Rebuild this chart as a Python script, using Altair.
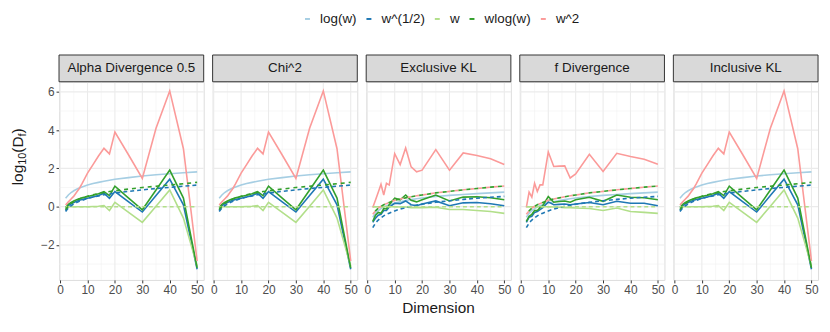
import altair as alt
import pandas as pd

FONT = "Liberation Sans"

panels = ["Alpha Divergence 0.5", "Chi^2", "Exclusive KL", "f Divergence", "Inclusive KL"]
series = ["log(w)", "w^(1/2)", "w", "wlog(w)", "w^2"]
colors = ["#A6CEE3", "#1F78B4", "#B2DF8A", "#33A02C", "#FB9A99"]

dims = [2, 3, 4, 5, 6, 7, 8, 10, 12, 14, 16, 18, 20, 25, 30, 35, 40, 45, 50]

# panels Alpha Divergence 0.5 / Chi^2 / Inclusive KL
a_logw = [0.44, 0.61, 0.74, 0.83, 0.91, 0.98, 1.03, 1.13, 1.21, 1.27, 1.33, 1.38, 1.43, 1.52, 1.60, 1.67, 1.72, 1.77, 1.82]
a_sqrt = [-0.2, 0.05, 0.15, 0.22, 0.28, 0.33, 0.37, 0.44, 0.5, 0.58, 0.7, 0.44, 0.79, 0.25, -0.28, 0.58, 1.44, 0.1, -3.27]
a_w = [0.0, 0.0, 0.0, 0.0, 0.0, 0.0, 0.0, 0.0, 0.01, 0.02, 0.06, -0.2, 0.23, -0.3, -0.82, 0.02, 0.87, -0.6, -3.1]
a_wlogw = [-0.05, 0.12, 0.22, 0.3, 0.36, 0.41, 0.46, 0.53, 0.6, 0.68, 0.79, 0.58, 1.07, 0.45, -0.16, 0.87, 1.91, 0.45, -3.2]
a_w2 = [0.09, 0.25, 0.4, 0.55, 0.75, 0.95, 1.2, 1.75, 2.2, 2.65, 3.05, 2.76, 3.9, 2.7, 1.48, 4.1, 6.05, 3.03, -2.84]
a_d_sqrt = [-0.25, -0.07, 0.05, 0.14, 0.21, 0.28, 0.33, 0.43, 0.5, 0.56, 0.62, 0.66, 0.71, 0.8, 0.88, 0.95, 1.01, 1.07, 1.13]
a_d_w = [0.0] * 19
a_d_wlogw = [-0.15, 0.03, 0.16, 0.26, 0.33, 0.4, 0.46, 0.55, 0.62, 0.69, 0.74, 0.79, 0.83, 0.92, 1.0, 1.07, 1.13, 1.2, 1.27]

# panel Exclusive KL
e_logw = [-0.55, -0.35, -0.2, -0.1, -0.02, 0.05, 0.1, 0.19, 0.26, 0.32, 0.37, 0.41, 0.45, 0.53, 0.59, 0.64, 0.68, 0.72, 0.76]
e_sqrt = [-0.82, -0.6, -0.45, -0.4, -0.2, -0.2, -0.02, 0.18, 0.16, 0.3, 0.1, 0.05, 0.14, 0.3, 0.05, 0.2, 0.22, 0.15, 0.05]
e_w = [0.0, 0.0, 0.0, 0.0, 0.0, 0.0, 0.0, 0.0, -0.02, -0.02, -0.05, -0.05, -0.05, -0.03, -0.15, -0.15, -0.2, -0.25, -0.35]
e_wlogw = [-0.77, -0.45, -0.3, -0.35, -0.1, -0.12, 0.1, 0.44, 0.36, 0.61, 0.33, 0.25, 0.36, 0.61, 0.3, 0.5, 0.52, 0.47, 0.36]
e_w2 = [-0.04, 0.35, 0.75, 1.17, 0.61, 1.22, 1.13, 2.77, 2.2, 3.07, 2.08, 1.82, 1.91, 2.98, 1.91, 2.81, 2.68, 2.51, 2.2]

# panel f Divergence
f_logw = [-0.55, -0.35, -0.2, -0.1, -0.02, 0.05, 0.1, 0.19, 0.26, 0.32, 0.37, 0.41, 0.45, 0.53, 0.59, 0.64, 0.68, 0.72, 0.76]
f_sqrt = [-0.82, -0.55, -0.5, -0.3, -0.25, -0.15, -0.05, 0.25, 0.1, 0.12, 0.14, 0.1, 0.14, 0.22, 0.1, 0.28, 0.18, 0.18, 0.05]
f_w = [0.0, 0.0, 0.0, 0.0, 0.0, 0.0, 0.0, 0.0, -0.02, -0.03, -0.05, -0.05, -0.07, -0.1, -0.2, -0.07, -0.25, -0.3, -0.35]
f_wlogw = [-0.77, -0.5, -0.4, -0.2, -0.2, -0.05, 0.05, 0.53, 0.23, 0.27, 0.3, 0.23, 0.36, 0.49, 0.28, 0.61, 0.49, 0.47, 0.36]
f_w2 = [-0.04, 0.76, 0.5, 1.22, 0.79, 1.14, 1.14, 2.86, 2.1, 2.12, 2.13, 1.5, 1.71, 2.74, 1.84, 2.79, 2.62, 2.48, 2.22]

# dashed curves for Exclusive KL / f Divergence
ef_d_sqrt = [-1.1, -0.85, -0.7, -0.58, -0.48, -0.4, -0.34, -0.22, -0.12, -0.05, 0.02, 0.08, 0.13, 0.23, 0.31, 0.38, 0.44, 0.49, 0.54]
ef_d_w = [0.0] * 19
ef_d_wlogw = [-0.4, -0.22, -0.08, 0.02, 0.1, 0.16, 0.22, 0.33, 0.4, 0.46, 0.52, 0.57, 0.61, 0.72, 0.8, 0.88, 0.95, 1.02, 1.08]
ef_d_w2 = [-0.4, -0.22, -0.08, 0.02, 0.1, 0.16, 0.22, 0.33, 0.4, 0.46, 0.52, 0.57, 0.61, 0.72, 0.8, 0.88, 0.95, 1.02, 1.08]

x_major = [0, 10, 20, 30, 40, 50]
x_minor = [5, 15, 25, 35, 45]
y_major = [-2, 0, 2, 4, 6]
y_minor = [-3, -1, 1, 3, 5]

solid_sets = {
    "A": [a_logw, a_sqrt, a_w, a_wlogw, a_w2],
    "E": [e_logw, e_sqrt, e_w, e_wlogw, e_w2],
    "F": [f_logw, f_sqrt, f_w, f_wlogw, f_w2],
}
dashed_sets = {
    "A": {"w^(1/2)": a_d_sqrt, "w": a_d_w, "wlog(w)": a_d_wlogw},
    "E": {"w^(1/2)": ef_d_sqrt, "w": ef_d_w, "w^2": ef_d_w2, "wlog(w)": ef_d_wlogw},
    "F": {"w^(1/2)": ef_d_sqrt, "w": ef_d_w, "w^2": ef_d_w2, "wlog(w)": ef_d_wlogw},
}
panel_key = {"Alpha Divergence 0.5": "A", "Chi^2": "A", "Exclusive KL": "E", "f Divergence": "F", "Inclusive KL": "A"}

W, H = 146, 200
xs = alt.Scale(domain=[-0.4, 52.4], nice=False, zero=False)
ys = alt.Scale(domain=[-3.83, 6.53], nice=False, zero=False)
cs = alt.Scale(domain=series, range=colors)

legend = alt.Legend(
    title=None, orient="none", legendX=244, legendY=-70.5, direction="horizontal",
    symbolType="stroke", symbolSize=25, symbolStrokeWidth=2, labelFontSize=13.5,
    labelFont=FONT, labelColor="#1A1A1A", labelOffset=6, columnPadding=5,
)

LW = 1.6


def one(text, x, y, size, **kw):
    return alt.Chart(pd.DataFrame({"t": [text]})).mark_text(
        text=text, font=FONT, fontSize=size, color="#1A1A1A", **kw
    ).encode(x=alt.value(x), y=alt.value(y))


charts = []
for i, p in enumerate(panels):
    key = panel_key[p]
    rows = []
    for s, vals in zip(series, solid_sets[key]):
        for d, v in zip(dims, vals):
            rows.append({"dim": d, "series": s, "val": v})
    sdf = pd.DataFrame(rows)
    drows = []
    for s, vals in dashed_sets[key].items():
        for d, v in zip(dims, vals):
            drows.append({"dim": d, "series": s, "val": v})
    ddf = pd.DataFrame(drows)

    first = i == 0
    xaxis = alt.Axis(values=x_major, title=None, grid=False, domain=False, labelFontSize=12,
                     labelColor="#4D4D4D", labelFont=FONT, tickColor="#333333", tickSize=3,
                     labelPadding=2, labelFlush=False, labelOverlap=False)
    if first:
        yaxis = alt.Axis(values=y_major, title=None, grid=False, domain=False, labelFontSize=12,
                         labelColor="#4D4D4D", labelFont=FONT, tickColor="#333333", tickSize=3,
                         labelPadding=2, labelOverlap=False)
    else:
        yaxis = alt.Axis(values=y_major, title=None, grid=False, domain=False, labels=False, ticks=False)

    def X(field):
        return alt.X(field, scale=xs, axis=xaxis)

    def Y(field):
        return alt.Y(field, scale=ys, axis=yaxis)

    gx_major = alt.Chart(pd.DataFrame({"v": x_major})).mark_rule(color="#EBEBEB", strokeWidth=1.1).encode(
        x=X("v:Q"))
    gx_minor = alt.Chart(pd.DataFrame({"v": x_minor})).mark_rule(color="#F2F2F2", strokeWidth=0.6).encode(
        x=X("v:Q"))
    gy_major = alt.Chart(pd.DataFrame({"v": y_major})).mark_rule(color="#EBEBEB", strokeWidth=1.1).encode(
        y=Y("v:Q"))
    gy_minor = alt.Chart(pd.DataFrame({"v": y_minor})).mark_rule(color="#F2F2F2", strokeWidth=0.6).encode(
        y=Y("v:Q"))

    strip = alt.Chart(pd.DataFrame({"t": [p]})).mark_rect(
        fill="#D9D9D9", stroke="#333333", strokeWidth=1, clip=False
    ).encode(x=alt.value(0), x2=alt.value(W), y=alt.value(-27), y2=alt.value(0))
    strip_text = one(p, W / 2, -13.5, 13.5, align="center", baseline="middle")

    solid = alt.Chart(sdf).mark_line(strokeWidth=LW).encode(
        x=X("dim:Q"),
        y=Y("val:Q"),
        color=alt.Color("series:N", scale=cs, legend=legend, sort=series),
    )
    d_main = alt.Chart(ddf).transform_filter(
        alt.FieldOneOfPredicate(field="series", oneOf=["w^(1/2)", "w"])
    ).mark_line(strokeWidth=LW, strokeDash=[4, 3]).encode(
        x=X("dim:Q"), y=Y("val:Q"),
        color=alt.Color("series:N", scale=cs, legend=None),
    )
    d_red = alt.Chart(ddf).transform_filter(alt.datum.series == "w^2").mark_line(
        strokeWidth=LW, strokeDash=[4, 4]).encode(
        x=X("dim:Q"), y=Y("val:Q"),
        color=alt.Color("series:N", scale=cs, legend=None),
    )
    d_green = alt.Chart(ddf).transform_filter(alt.datum.series == "wlog(w)").mark_line(
        strokeWidth=LW, strokeDash=[4, 4], strokeDashOffset=4 if key != "A" else 0).encode(
        x=X("dim:Q"), y=Y("val:Q"),
        color=alt.Color("series:N", scale=cs, legend=None),
    )

    layers = [gx_minor, gy_minor, gx_major, gy_major, strip, strip_text, solid, d_main, d_red, d_green]
    if i == 2:
        layers.append(one("Dimension", W / 2, H + 28, 15.5, align="center", baseline="middle"))
    if first:
        bx = -36.5
        layers += [
            one("log", bx, 104.5, 15.5, align="left", baseline="alphabetic", angle=270),
            one("10", bx + 3.5, 83.8, 11, align="left", baseline="alphabetic", angle=270),
            one("(D", bx, 71.6, 15.5, align="left", baseline="alphabetic", angle=270),
            one("f", bx + 3.5, 55.2, 11, align="left", baseline="alphabetic", angle=270),
            one(")", bx, 52.1, 15.5, align="left", baseline="alphabetic", angle=270),
        ]
    charts.append(alt.layer(*layers).properties(width=W, height=H))

chart = alt.hconcat(*charts, spacing=9, bounds="flush").properties(
    padding={"left": 2.5, "top": 2, "right": 2, "bottom": 2}
).configure_view(stroke="#333333", strokeWidth=1).configure(background="white")

chart.save("out.html", embed_options={"renderer": "svg", "actions": False})
